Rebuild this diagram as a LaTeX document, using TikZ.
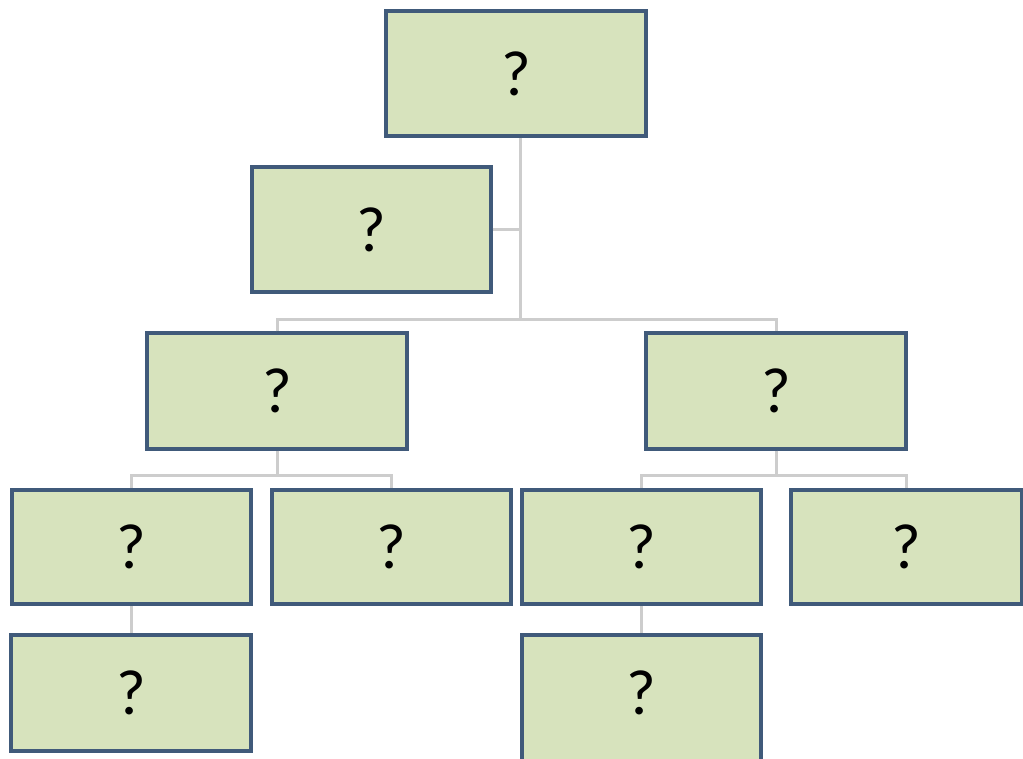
\documentclass[tikz,border=0pt]{standalone}
\usepackage{fontspec}
\setmainfont{Carlito}
\usetikzlibrary{calc}
\definecolor{boxfill}{RGB}{215,227,189}
\definecolor{boxline}{RGB}{64,90,122}
\definecolor{connline}{RGB}{205,205,205}
\begin{document}
\begin{tikzpicture}[x=1pt,y=-1pt,
  orgbox/.style={draw=boxline,fill=boxfill,line width=4pt,inner sep=0pt,
    font=\fontsize{64}{64}\selectfont},
  qmark/.style={font=\fontsize{64}{64}\selectfont,inner sep=0pt},
  conn/.style={draw=connline,line width=3pt}]
\useasboundingbox (0,0) rectangle (1023,759);
\coordinate (j1) at (520,320);
\node[orgbox,minimum width=260,minimum height=125] (top) at (516,74) {?};
\node[orgbox,minimum width=239,minimum height=125] (asst) at (371,230) {?};
\node[orgbox,minimum width=260,minimum height=115] (l2a) at (277,391) {?};
\node[orgbox,minimum width=260,minimum height=115] (l2b) at (776,391) {?};
\node[orgbox,minimum width=239,minimum height=114] (l3a) at (131,547) {?};
\node[orgbox,minimum width=239,minimum height=114] (l3b) at (391,547) {?};
\node[orgbox,minimum width=239,minimum height=114] (l3c) at (641,547) {?};
\node[orgbox,minimum width=231,minimum height=114] (l3d) at (906,547) {?};
\node[orgbox,minimum width=240,minimum height=116] (l4a) at (131,693) {?};
\node[orgbox,minimum width=239,minimum height=140] (l4c) at (641,705) {};
\node[qmark] (l4ct) at (641,693) {?};
\path[conn] (top.south -| j1) -- (j1);
\path[conn] (asst.east) -- (asst.east -| j1);
\path[conn] (l2a.north) |- (j1) -| (l2b.north);
\path[conn] (l2a.south) -- ++(0,25) coordinate (j2);
\path[conn] (l3a.north) |- (j2) -| (l3b.north);
\path[conn] (l2b.south) -- ++(0,25) coordinate (j3);
\path[conn] (l3c.north) |- (j3) -| (l3d.north);
\path[conn] (l3a.south) -- (l4a.north);
\path[conn] (l3c.south) -- (l4c.north);
\end{tikzpicture}
\end{document}
